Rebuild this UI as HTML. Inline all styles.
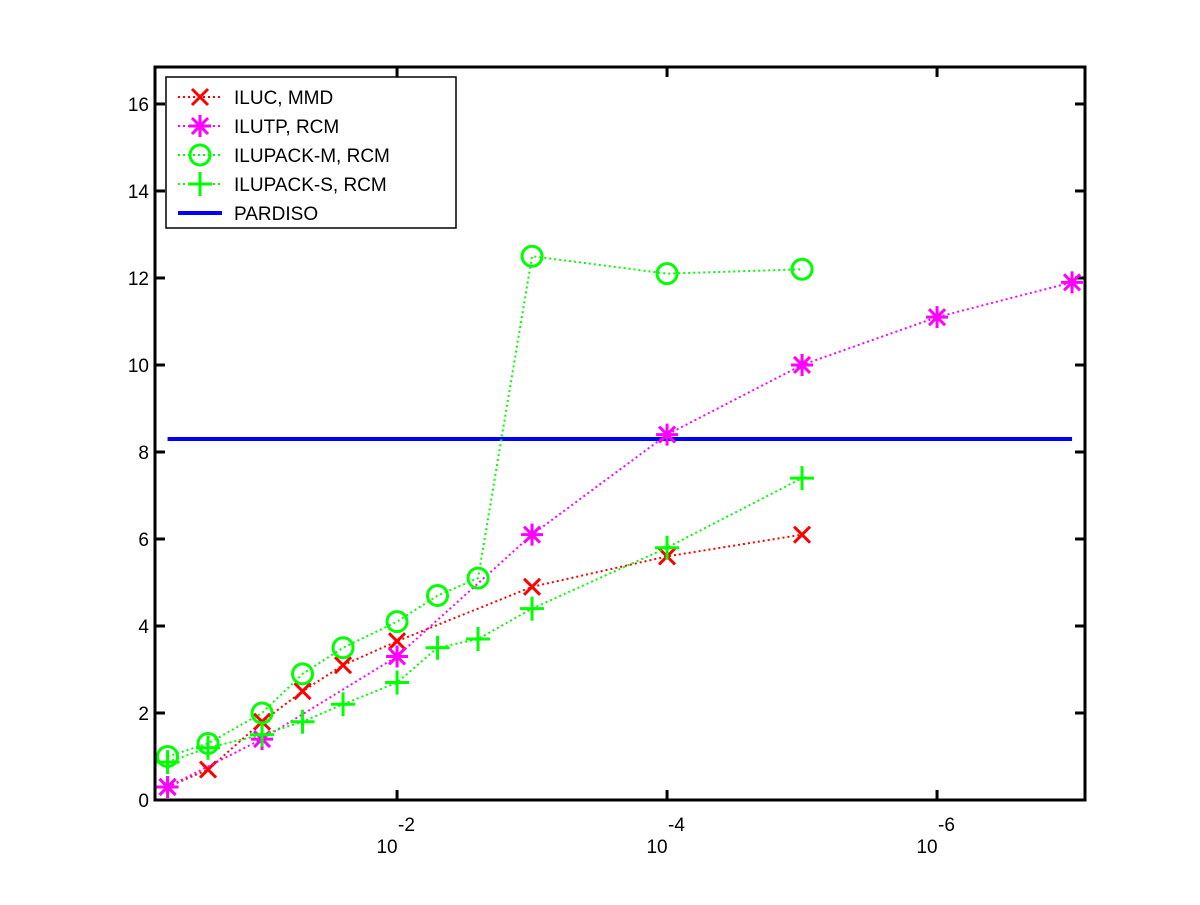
<!DOCTYPE html>
<html><head><meta charset="utf-8"><style>
body{margin:0;background:#fff;}
svg text{font-family:"Liberation Sans",sans-serif;}
</style></head><body>
<svg id="chart" width="1200" height="900" xmlns="http://www.w3.org/2000/svg">
<rect width="1200" height="900" fill="#fff"/>
<g id="plot"></g>
</svg>
<script>
const xDecades = [0.3,0.6,1,1.3,1.6,2,2.3,2.6,3,4,5,6,7];
const ilucX = [0.3,0.6,1,1.3,1.6,2,3,4,5];
const ilucY = [0.3,0.7,1.8,2.5,3.1,3.65,4.9,5.6,6.1];
const ilutpX = [0.3,1,2,3,4,5,6,7];
const ilutpY = [0.3,1.4,3.3,6.1,8.4,10,11.1,11.9];
const ilupackMX = [0.3,0.6,1,1.3,1.6,2,2.3,2.6,3,4,5];
const ilupackMY = [1.0,1.3,2.0,2.9,3.5,4.1,4.7,5.1,12.5,12.1,12.2];
const ilupackSX = [0.3,0.6,1,1.3,1.6,2,2.3,2.6,3,4,5];
const ilupackSY = [0.87,1.2,1.5,1.8,2.2,2.7,3.5,3.7,4.4,5.8,7.4];
const pardisoY = 8.3;
const yTicks = [0,2,4,6,8,10,12,14,16];
const xTicks = [2,4,6];
const xTickLabels = ["-2","-4","-6"];

const L=155,R=1085,T=67,B=800;
const xMin=0.207,xMax=7.096,yMin=0,yMax=16.85;
const sx=d=>L+(d-xMin)/(xMax-xMin)*(R-L);
const sy=v=>B-(v-yMin)/(yMax-yMin)*(B-T);
const g=document.getElementById('plot');
const NS='http://www.w3.org/2000/svg';
function el(tag,attrs,parent){const e=document.createElementNS(NS,tag);for(const k in attrs)e.setAttribute(k,attrs[k]);(parent||g).appendChild(e);return e;}

yTicks.forEach((v,i)=>{
  const y=sy(v);
  const t=el('line',{x1:L,x2:L+10,y1:y,y2:y,stroke:'#000','stroke-width':3});
  
  
  const t2=el('line',{x1:R-10,x2:R,y1:y,y2:y,stroke:'#000','stroke-width':3});
  
  
  const lb=el('text',{x:L-6,y:y+7,'text-anchor':'end','font-size':19});
  lb.textContent=v;
  
  
});
xTicks.forEach((d,i)=>{
  const x=sx(d);
  const t=el('line',{x1:x,x2:x,y1:B,y2:B-10,stroke:'#000','stroke-width':3});
  
  
  const t2=el('line',{x1:x,x2:x,y1:T,y2:T+10,stroke:'#000','stroke-width':3});
  
  
  const lb=el('text',{x:x-10,y:853,'text-anchor':'middle','font-size':19});
  lb.textContent='10';
  
  
  const sp=el('text',{x:x+1,y:831,'text-anchor':'start','font-size':19});
  sp.textContent=xTickLabels[i];
  
  
});

const pl=el('line',{x1:sx(0.3),x2:sx(7),y1:sy(pardisoY),y2:sy(pardisoY),stroke:'#0000ff','stroke-width':4});



function marker(type,x,y,color,parent){
  const p=parent||g;let m;
  if(type==='x'){m=el('path',{d:`M${x-8} ${y-8}L${x+8} ${y+8}M${x-8} ${y+8}L${x+8} ${y-8}`,stroke:color,'stroke-width':3,fill:'none'},p);}
  else if(type==='*'){m=el('path',{d:`M${x-11} ${y}L${x+11} ${y}M${x} ${y-11}L${x} ${y+11}M${x-8} ${y-8}L${x+8} ${y+8}M${x-8} ${y+8}L${x+8} ${y-8}`,stroke:color,'stroke-width':3,fill:'none'},p);}
  else if(type==='o'){m=el('circle',{cx:x,cy:y,r:10,stroke:color,'stroke-width':3,fill:'none'},p);}
  else {m=el('path',{d:`M${x-12} ${y}L${x+12} ${y}M${x} ${y-12}L${x} ${y+12}`,stroke:color,'stroke-width':3,fill:'none'},p);}
  return m;
}
function series(xs,ys,color,type,name){
  const pts=xs.map((d,i)=>sx(d)+','+sy(ys[i])).join(' ');
  const ln=el('polyline',{points:pts,fill:'none',stroke:color,'stroke-width':2,'stroke-dasharray':'2,3'});
  
  
  xs.forEach((d,i)=>{
    const m=marker(type,sx(d),sy(ys[i]),color);
    
    
  });
}
series(ilucX,ilucY,'#ff0000','x','iluc-mmd');
series(ilutpX,ilutpY,'#ff00ff','*','ilutp-rcm');
series(ilupackMX,ilupackMY,'#00ff00','o','ilupack-m-rcm');
series(ilupackSX,ilupackSY,'#00ff00','+','ilupack-s-rcm');

const box=el('rect',{x:L,y:T,width:R-L,height:B-T,fill:'none',stroke:'#000','stroke-width':3});



const lg=el('g',{});


el('rect',{x:166,y:77,width:290,height:151,fill:'#fff',stroke:'#000','stroke-width':1.5},lg);
const entries=[['ILUC, MMD','#ff0000','x'],['ILUTP, RCM','#ff00ff','*'],['ILUPACK-M, RCM','#00ff00','o'],['ILUPACK-S, RCM','#00ff00','+'],['PARDISO','#0000ff','line']];
entries.forEach((e,i)=>{
  const y=97+i*29;
  const eg=el('g',{},lg);
  
  
  if(e[2]==='line'){el('line',{x1:178,x2:222,y1:y,y2:y,stroke:e[1],'stroke-width':4},eg);}
  else{el('line',{x1:178,x2:222,y1:y,y2:y,stroke:e[1],'stroke-width':2,'stroke-dasharray':'2,3'},eg);marker(e[2],200,y,e[1],eg);}
  const t=el('text',{x:234,y:y+7,'font-size':19},eg);t.textContent=e[0];
});
</script>
</body></html>
